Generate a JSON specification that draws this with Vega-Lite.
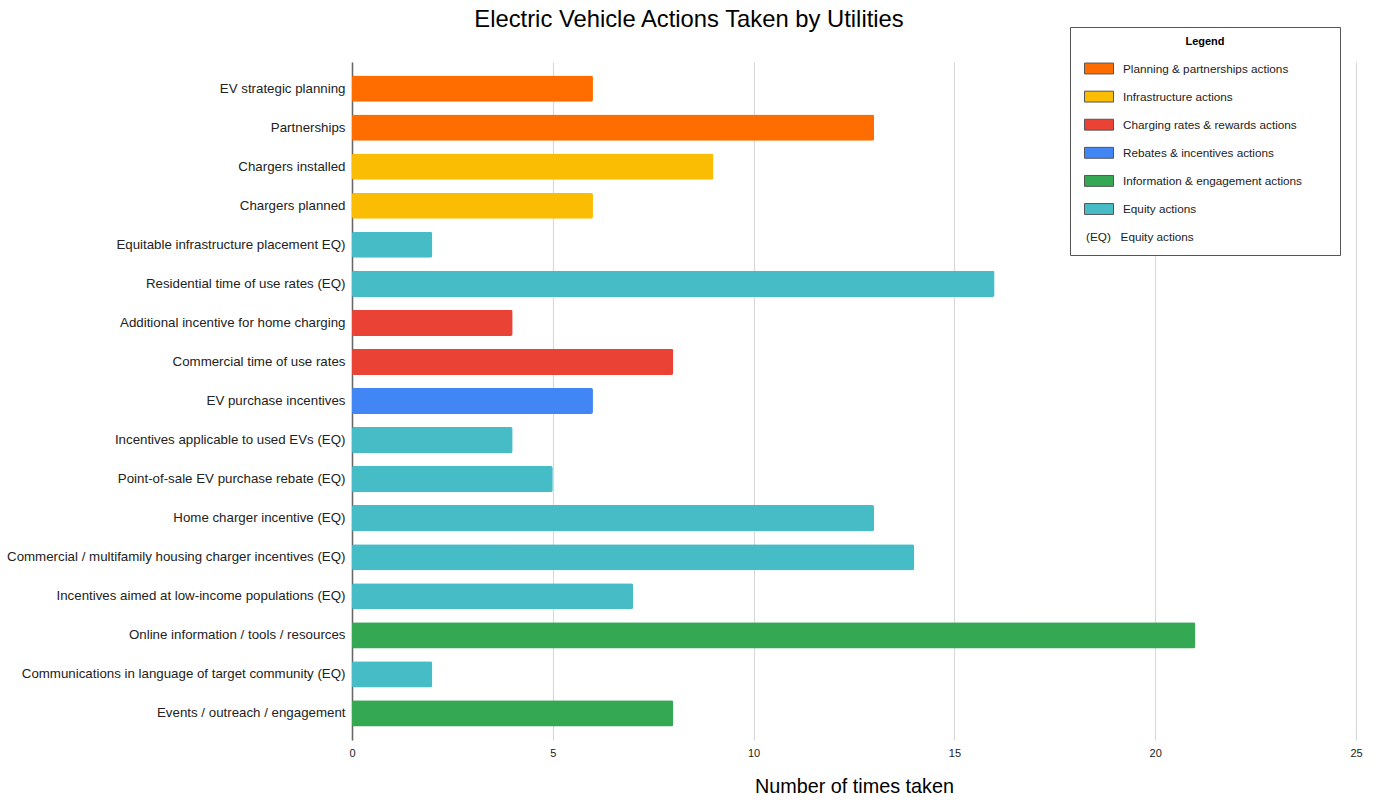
{
  "$schema": "https://vega.github.io/schema/vega-lite/v6.json",
  "width": 1004,
  "height": 678,
  "autosize": {"type": "none"},
  "padding": {"left": 352, "top": 62, "right": 23, "bottom": 62},
  "background": "white",
  "config": {
    "font": "Liberation Sans",
    "view": {"stroke": null}
  },
  "title": {
    "text": "Electric Vehicle Actions Taken by Utilities",
    "fontSize": 23.8,
    "fontWeight": "normal",
    "color": "#000000",
    "anchor": "middle",
    "frame": "group",
    "dx": -165,
    "offset": 0,
    "dy": 5
  },
  "data": {
    "values": [
      {"action": "EV strategic planning", "count": 6, "category": "Planning & partnerships actions"},
      {"action": "Partnerships", "count": 13, "category": "Planning & partnerships actions"},
      {"action": "Chargers installed", "count": 9, "category": "Infrastructure actions"},
      {"action": "Chargers planned", "count": 6, "category": "Infrastructure actions"},
      {"action": "Equitable infrastructure placement EQ)", "count": 2, "category": "Equity actions"},
      {"action": "Residential time of use rates (EQ)", "count": 16, "category": "Equity actions"},
      {"action": "Additional incentive for home charging", "count": 4, "category": "Charging rates & rewards actions"},
      {"action": "Commercial time of use rates", "count": 8, "category": "Charging rates & rewards actions"},
      {"action": "EV purchase incentives", "count": 6, "category": "Rebates & incentives actions"},
      {"action": "Incentives applicable to used EVs (EQ)", "count": 4, "category": "Equity actions"},
      {"action": "Point-of-sale EV purchase rebate (EQ)", "count": 5, "category": "Equity actions"},
      {"action": "Home charger incentive (EQ)", "count": 13, "category": "Equity actions"},
      {"action": "Commercial / multifamily housing charger incentives (EQ)", "count": 14, "category": "Equity actions"},
      {"action": "Incentives aimed at low-income populations (EQ)", "count": 7, "category": "Equity actions"},
      {"action": "Online information / tools / resources", "count": 21, "category": "Information & engagement actions"},
      {"action": "Communications in language of target community (EQ)", "count": 2, "category": "Equity actions"},
      {"action": "Events / outreach / engagement", "count": 8, "category": "Information & engagement actions"}
    ]
  },
  "mark": {"type": "bar", "cornerRadius": 2},
  "encoding": {
    "y": {
      "field": "action",
      "type": "nominal",
      "sort": null,
      "scale": {"paddingInner": 0.33, "paddingOuter": 0.345},
      "axis": {
        "title": null,
        "labelFontSize": 13.3,
        "labelColor": "#222222",
        "labelPadding": 7,
        "ticks": false,
        "domain": true,
        "domainColor": "#666666",
        "domainWidth": 1.5,
        "labelLimit": 400
      }
    },
    "x": {
      "field": "count",
      "type": "quantitative",
      "scale": {"domain": [0, 25], "nice": false},
      "axis": {
        "title": "Number of times taken",
        "titleFontSize": 19.8,
        "titleFontWeight": "normal",
        "titleColor": "#000000",
        "titlePadding": 18,
        "values": [0, 5, 10, 15, 20, 25],
        "labelFontSize": 11,
        "labelColor": "#222222",
        "labelPadding": 7,
        "labelFlush": false,
        "ticks": false,
        "domain": false,
        "grid": true,
        "gridColor": "#d9d9d9",
        "gridWidth": 1.2
      }
    },
    "color": {
      "field": "category",
      "type": "nominal",
      "scale": {
        "domain": [
          "Planning & partnerships actions",
          "Infrastructure actions",
          "Charging rates & rewards actions",
          "Rebates & incentives actions",
          "Information & engagement actions",
          "Equity actions",
          "(EQ)\u00a0\u00a0\u00a0Equity actions"
        ],
        "range": ["#FF6D01", "#FBBC04", "#EA4335", "#4285F4", "#34A853", "#46BDC6", "transparent"]
      },
      "legend": {
        "orient": "none",
        "legendX": 718,
        "legendY": -35,
        "title": "Legend",
        "titleFontSize": 11,
        "titleFontWeight": "bold",
        "titleColor": "#000000",
        "titleAnchor": "middle",
        "titlePadding": 12,
        "padding": 10,
        "strokeColor": "#555555",
        "fillColor": "white",
        "labelFontSize": 11.75,
        "labelColor": "#222222",
        "labelOffset": 26,
        "labelLimit": 400,
        "rowPadding": 12.1,
        "symbolType": "M-0.5,-0.68H3.125V0.68H-0.5Z",
        "symbolSize": 256,
        "symbolStrokeWidth": 1,
        "symbolOpacity": 1,
        "encode": {
          "title": {
            "update": {"dy": {"value": -1}}
          },
          "symbols": {
            "update": {
              "stroke": {"signal": "datum.value == '(EQ)\u00a0\u00a0\u00a0Equity actions' ? 'transparent' : '#555555'"},
              "shape": {"signal": "datum.value == '(EQ)\u00a0\u00a0\u00a0Equity actions' ? 'M-0.5,-0.68H29.875V0.68H-0.5Z' : 'M-0.5,-0.68H3.125V0.68H-0.5Z'"}
            }
          },
          "labels": {
            "update": {
              "dx": {"signal": "datum.value == '(EQ)\u00a0\u00a0\u00a0Equity actions' ? -37 : 0"}
            }
          }
        }
      }
    }
  }
}
